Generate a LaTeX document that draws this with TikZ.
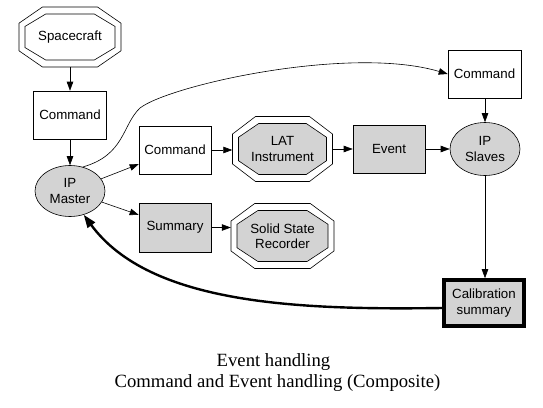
\documentclass[tikz,border=0pt]{standalone}
\usepackage{fontspec}
\setmainfont{Liberation Serif}
\setsansfont{Liberation Sans}
\usetikzlibrary{shapes.geometric,arrows.meta,calc}
\definecolor{lgray}{RGB}{211,211,211}
\newcommand\octo[4]{%
 \draw[line width=0.6pt,fill=#4] ($(#1)+({-0.5*(#2)},{-0.23*(#3)})$) -- ($(#1)+({-0.27*(#2)},{-0.5*(#3)})$) -- ($(#1)+({0.27*(#2)},{-0.5*(#3)})$) -- ($(#1)+({0.5*(#2)},{-0.23*(#3)})$) -- ($(#1)+({0.5*(#2)},{0.23*(#3)})$) -- ($(#1)+({0.27*(#2)},{0.5*(#3)})$) -- ($(#1)+({-0.27*(#2)},{0.5*(#3)})$) -- ($(#1)+({-0.5*(#2)},{0.23*(#3)})$) -- cycle;}
\newcommand\dblocto[4]{\octo{#1}{#2}{#3}{white}\octo{#1}{#2-12}{#3-14}{#4}}
\begin{document}
\begin{tikzpicture}[x=1pt,y=-1pt,
  font=\sffamily\fontsize{13.3}{15.5}\selectfont,
  box/.style={draw, line width=0.6pt, minimum width=72pt, minimum height=48pt, inner sep=0pt, align=center},
  gbox/.style={box, fill=lgray},
  ell/.style={ellipse, draw, fill=lgray, line width=0.6pt, minimum width=70pt, minimum height=51pt, inner sep=0pt, align=center},
  oct/.style={inner sep=0pt, align=center},
  arr/.style={-{Triangle[length=9pt,width=6.5pt]}, line width=0.6pt},
  thickarr/.style={-{Triangle[length=13pt,width=9pt]}, line width=2.4pt},
  captext/.style={font=\rmfamily\fontsize{18.67}{21}\selectfont}]
\fill[white] (0,0) rectangle (543,407);
\path[use as bounding box] (0,0) rectangle (543,407);
% octagon centres
\coordinate (scc) at (70,37);
\coordinate (latc) at (282.5,149);
\coordinate (ssrc) at (282.5,236);
\dblocto{scc}{102}{60}{white}
\dblocto{latc}{100}{65}{lgray}
\dblocto{ssrc}{103}{65}{lgray}
\node[oct, minimum width=102pt, minimum height=60pt] (sc) at (scc) {Spacecraft};
\node[oct, minimum width=100pt, minimum height=65pt] (lat) at (latc) {LAT\\Instrument};
\node[oct, minimum width=103pt, minimum height=65pt] (ssr) at (ssrc) {Solid State\\Recorder};
% other nodes
\node[box, minimum width=73pt] (cmd1) at (70,115) {Command};
\node[ell] (master) at (70,191) {IP\\Master};
\node[box] (cmd2) at (175,150) {Command};
\node[gbox] (event) at (389,149) {Event};
\node[ell, minimum height=53pt] (slaves) at (485,149) {IP\\Slaves};
\node[box, minimum width=73pt] (cmd3) at (484.5,74) {Command};
\node[gbox, minimum height=49pt] (summary) at (175,227.5) {Summary};
\node[draw, fill=lgray, line width=3.6pt, minimum width=80pt, minimum height=46pt, inner sep=0pt, align=center] (calib) at (484,303) {Calibration\\summary};
% captions
\node[captext] (t1) at (273.5,362) {Event handling};
\node[captext] (t2) at (277.5,383) {Command and Event handling (Composite)};
% edges
\draw[arr] (sc) -- (cmd1);
\draw[arr] (cmd1) -- (master);
\draw[arr] (master) -- (cmd2);
\draw[arr] (master) -- (summary);
\draw[arr] (cmd2.east) -- (cmd2.east -| lat.west);
\draw[arr] (lat.east |- event.west) -- (event.west);
\draw[arr] (event) -- (slaves);
\draw[arr] (summary.east) -- (summary.east -| ssr.west);
\draw[arr] (cmd3.south -| slaves.north) -- (slaves.north);
\draw[arr] (slaves.south) -- (slaves.south |- calib.north);
\draw[arr] (master.62) .. controls (125,155) and (122,125) .. (140,108) .. controls (170,85) and (350,45) .. (cmd3.west);
\draw[thickarr] ([yshift=-5pt]calib.west) .. controls (300,310) and (150,305) .. (master.-60);
\end{tikzpicture}
\end{document}
